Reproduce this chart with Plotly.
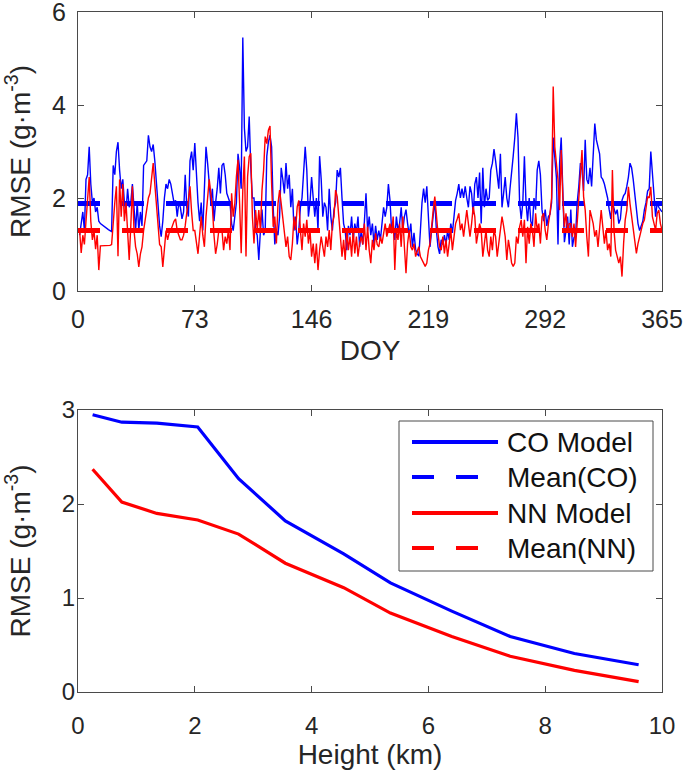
import plotly.graph_objects as go

# ---------------- data ----------------
doy = list(range(1, 366))

co_daily = [
    1.2, 1.5, 1.7, 1.3, 2.4, 2.5, 3.1, 2.3, 1.9, 2.0,
    1.7, 1.8, 1.5, 1.45, 1.42, 1.4, 1.38, 1.35, 1.32, 1.3,
    1.28, 2.7, 2.5, 3.0, 3.2, 2.6, 2.2, 2.4, 1.9, 1.7,
    2.2, 1.8, 1.9, 2.3, 1.7, 1.3, 1.9, 1.3, 1.7, 1.4,
    2.7, 2.75, 2.8, 3.35, 3.1, 3.0, 3.15, 2.8, 2.3, 1.9,
    1.4, 1.17, 1.5, 2.0, 2.3, 2.2, 2.4, 2.3, 2.1, 1.9,
    1.95, 1.6, 1.9, 1.8, 1.55, 1.7, 2.5, 1.8, 1.6, 2.8,
    3.0, 2.6, 3.18, 2.4, 1.9, 1.5, 1.9, 1.3, 2.2, 3.1,
    2.75, 2.2, 1.9, 2.2, 1.5, 1.9, 2.2, 2.65, 2.1, 2.7,
    2.75, 2.5, 2.1, 2.0, 1.9, 1.45, 1.3, 1.6, 1.9, 2.95,
    2.65, 2.2, 5.45, 3.5, 3.0, 3.1, 3.75, 2.65, 2.0, 2.0,
    1.3, 1.2, 0.67, 1.3, 1.75, 1.2, 1.3, 2.9, 3.2, 3.35,
    3.1, 1.8, 1.0, 1.3, 1.2, 1.6, 2.65, 2.4, 2.1, 2.75,
    2.2, 2.5, 1.8, 2.2, 1.3, 1.6, 1.0, 1.3, 1.8, 2.0,
    2.5, 3.1, 2.6, 1.6, 1.9, 2.45, 2.0, 1.6, 2.0, 1.3,
    2.9, 2.4, 1.6, 1.9, 1.8, 1.3, 2.2, 1.6, 1.3, 1.75,
    1.9, 2.6, 2.45, 2.65, 2.0, 1.45, 1.3, 0.88, 1.4, 1.2,
    1.6, 1.1, 1.45, 1.25, 1.6, 0.95, 1.3, 1.0, 1.5, 2.1,
    1.3, 1.6, 1.2, 1.45, 1.0, 1.4, 1.1, 1.3, 1.1, 1.45,
    1.8, 1.6, 1.8, 2.3, 1.95, 1.3, 1.45, 1.1, 1.6, 1.3,
    1.45, 1.8, 1.3, 1.6, 1.75, 1.45, 1.2, 1.45, 0.95, 1.25,
    0.9, 0.8, 0.75, 1.3, 1.9, 2.2, 1.9, 2.25, 1.45, 0.95,
    1.3, 1.6, 1.95, 1.3, 0.95, 0.8, 1.1, 1.0, 1.2, 1.0,
    1.3, 1.1, 1.45, 1.25, 1.6, 1.95, 2.1, 2.3, 2.0, 2.2,
    2.0, 2.25, 2.0, 1.8, 2.25, 2.1, 1.65, 2.3, 2.45, 2.0,
    2.55, 1.45, 2.65, 1.8, 2.2, 1.95, 2.0, 2.6, 2.75, 3.05,
    2.8, 2.5, 2.2, 2.95, 1.8, 2.1, 2.45, 2.0, 1.8, 2.2,
    2.5, 2.9, 3.3, 3.82, 3.3, 1.9, 1.55, 1.9, 2.9, 1.9,
    1.5, 2.0, 1.5, 1.4, 2.0, 1.75, 2.6, 2.8, 2.5, 1.75,
    1.5, 1.75, 1.4, 1.6, 1.65, 1.9, 3.3, 2.9, 2.45, 1.0,
    2.75, 3.3, 2.0, 1.05, 1.3, 1.6, 1.0, 1.75, 0.95, 1.15,
    1.2, 1.9, 2.25, 2.75, 2.6, 2.15, 3.25, 2.4, 2.3, 2.65,
    2.25, 3.0, 3.6, 3.25, 3.1, 2.95, 2.45, 2.4, 2.3, 2.15,
    2.0, 1.75, 1.55, 1.9, 1.75, 1.65, 1.75, 1.45, 1.55, 1.95,
    2.05, 2.1, 2.25, 2.45, 2.75, 2.65, 2.4, 2.05, 1.65, 1.45,
    1.3, 1.4, 1.5, 1.75, 1.9, 2.15, 2.2, 3.0, 2.45, 1.9,
    1.6, 1.9, 1.8, 1.75, 1.7,
]

nn_daily = [
    1.3, 0.82, 1.2, 1.0, 1.5, 1.9, 2.45, 1.5, 1.1, 1.3,
    0.9, 1.2, 0.45, 0.97, 0.97, 0.97, 0.97, 0.98, 0.98, 0.98,
    1.0, 1.55, 1.9, 2.25, 0.75, 2.4, 1.6, 2.3, 1.5, 1.9,
    1.2, 0.67, 1.4, 2.25, 1.3, 0.95, 0.8, 0.52, 0.8, 0.95,
    1.3, 1.55, 1.8, 2.0, 2.1, 2.4, 2.75, 2.3, 1.9, 1.4,
    1.0, 0.95, 0.52, 0.9, 1.3, 1.1, 1.25, 1.3, 1.4, 1.5,
    1.55, 1.3, 1.2, 1.1, 1.1, 1.2, 1.4, 1.7, 1.95, 2.25,
    1.7, 1.3, 1.3, 1.0, 0.8, 1.2, 1.6, 1.2, 0.95, 1.6,
    2.0, 2.4, 2.1, 1.8, 1.2, 0.8, 1.0, 1.3, 1.3, 1.3,
    0.88, 1.17, 1.02, 1.31, 0.88, 2.1, 1.6, 1.88, 2.46, 2.82,
    1.88, 0.81, 2.17, 2.89, 0.74, 2.46, 2.89, 2.96, 1.6, 1.02,
    1.74, 1.31, 1.74, 1.31, 2.17, 2.6, 3.32, 3.17, 3.46, 3.55,
    2.31, 1.38, 1.6, 1.02, 1.88, 2.17, 1.88, 1.6, 1.31, 0.95,
    1.17, 0.74, 0.67, 1.02, 1.6, 1.31, 1.81, 1.95, 1.31, 0.88,
    1.45, 1.17, 1.53, 1.02, 1.31, 0.74, 1.02, 0.6, 1.02, 0.45,
    0.88, 1.17, 0.95, 0.74, 1.17, 0.95, 1.31, 0.88, 1.45, 1.6,
    2.17, 2.03, 1.6, 1.17, 0.74, 1.1, 0.67, 1.31, 0.88, 1.17,
    0.74, 1.31, 0.81, 1.17, 0.74, 1.02, 1.17, 1.0, 1.45, 0.88,
    1.38, 0.88, 0.6, 1.1, 0.88, 1.24, 1.0, 0.95, 1.17, 1.02,
    1.24, 1.45, 1.17, 1.31, 1.45, 1.24, 1.6, 0.45, 1.31, 1.1,
    1.45, 0.95, 1.6, 0.95, 0.38, 1.02, 1.31, 0.95, 0.88, 1.02,
    0.74, 0.85, 0.95, 0.74, 0.67, 0.6, 0.53, 0.6, 0.88, 1.02,
    1.45, 1.74, 2.03, 1.6, 1.24, 0.95, 0.88, 1.17, 0.81, 1.1,
    0.74, 1.02, 1.31, 0.88, 1.24, 1.45, 1.55, 1.67, 1.31, 1.45,
    1.17, 1.53, 1.74, 1.45, 1.17, 1.45, 1.81, 1.6, 1.02, 1.24,
    1.45, 1.31, 0.74, 1.02, 1.31, 0.88, 0.74, 1.17, 0.88, 1.31,
    1.17, 0.74, 1.02, 1.38, 1.6, 1.4, 1.17, 0.67, 1.1, 0.88,
    0.6, 0.53, 0.6, 1.17, 1.02, 1.38, 1.53, 1.17, 1.53, 0.6,
    1.38, 1.02, 1.45, 1.31, 0.95, 1.67, 1.31, 1.45, 1.02, 1.6,
    1.67, 1.31, 1.1, 1.45, 1.67, 2.0, 4.4, 3.1, 2.74, 2.39,
    1.74, 3.03, 2.03, 1.38, 1.67, 1.31, 1.45, 1.45, 1.17, 1.45,
    0.95, 1.53, 2.03, 2.6, 3.03, 2.03, 1.74, 1.17, 0.74, 1.74,
    1.6, 1.45, 1.17, 1.31, 0.95, 1.38, 1.74, 1.38, 1.02, 1.31,
    0.88, 1.02, 0.74, 2.6, 1.31, 0.88, 0.74, 0.6, 0.74, 0.31,
    1.02, 1.53, 1.74, 2.24, 1.88, 1.6, 1.31, 1.02, 0.81, 1.02,
    1.17, 1.31, 1.45, 1.53, 1.74, 2.03, 2.0, 2.24, 1.6, 1.45,
    1.31, 1.67, 1.74, 1.45, 1.31,
]

co_mean = 1.88
nn_mean = 1.30
mean_span = [0, 365]

height_km = [0.25, 0.75, 1.35, 2.05, 2.75, 3.55, 4.55, 5.35, 6.4, 7.4, 8.5, 9.6]
co_height = [2.95, 2.87, 2.86, 2.82, 2.27, 1.82, 1.47, 1.16, 0.86, 0.59, 0.41, 0.29]
nn_height = [2.37, 2.02, 1.90, 1.83, 1.68, 1.37, 1.11, 0.84, 0.59, 0.38, 0.23, 0.11]

doy_ticks = [0, 73, 146, 219, 292, 365]
legend_labels = ["CO Model", "Mean(CO)", "NN Model", "Mean(NN)"]
legend_colors = ["#0000FF", "#0000FF", "#FF0000", "#FF0000"]
legend_dashed = [False, True, False, True]

BLUE = "#0000FF"
RED = "#FF0000"
FONT = "Liberation Sans, Arial, sans-serif"
AXC = "#4a4a4a"
TXT = "#262626"
DASH = "22px,22px"

fig = go.Figure()

# top panel
fig.add_trace(go.Scatter(x=doy, y=co_daily, mode="lines", name="CO Model", showlegend=False,
                         line=dict(color=BLUE, width=1.4), xaxis="x", yaxis="y"))
fig.add_trace(go.Scatter(x=mean_span, y=[co_mean, co_mean], mode="lines", name="Mean(CO)",
                         showlegend=False,
                         line=dict(color=BLUE, width=5, dash=DASH), xaxis="x", yaxis="y"))
fig.add_trace(go.Scatter(x=doy, y=nn_daily, mode="lines", name="NN Model", showlegend=False,
                         line=dict(color=RED, width=1.4), xaxis="x", yaxis="y"))
fig.add_trace(go.Scatter(x=mean_span, y=[nn_mean, nn_mean], mode="lines", name="Mean(NN)",
                         showlegend=False,
                         line=dict(color=RED, width=5, dash=DASH), xaxis="x", yaxis="y"))

# bottom panel
fig.add_trace(go.Scatter(x=height_km, y=co_height, mode="lines", name="CO Model", showlegend=False,
                         line=dict(color=BLUE, width=3.2), xaxis="x2", yaxis="y2"))
fig.add_trace(go.Scatter(x=height_km, y=nn_height, mode="lines", name="NN Model", showlegend=False,
                         line=dict(color=RED, width=3.2), xaxis="x2", yaxis="y2"))

W, H = 685, 770
def px(x):
    return x / W
def py(y):
    return 1 - y / H

def axis(size, standoff):
    return dict(showline=True, linecolor=AXC, linewidth=1, mirror="ticks",
                ticks="inside", ticklen=6, tickcolor=AXC, showgrid=False,
                zeroline=False, automargin=False, ticklabelstandoff=standoff,
                ticklabeloverflow="allow",
                tickfont=dict(family=FONT, size=size, color=TXT))

# legend box (MATLAB style, long line samples)
shapes = [dict(type="rect", xref="paper", yref="paper",
               x0=px(399), x1=px(653), y0=py(571), y1=py(421),
               line=dict(color=AXC, width=1), fillcolor="white", layer="above")]
annotations = []
row_y = [442, 477, 513, 548]
for lab, col, dashed, ry in zip(legend_labels, legend_colors, legend_dashed, row_y):
    shapes.append(dict(type="line", xref="paper", yref="paper",
                       x0=px(412), x1=px(498), y0=py(ry), y1=py(ry), layer="above",
                       line=dict(color=col, width=4, dash=DASH if dashed else "solid")))
    annotations.append(dict(xref="paper", yref="paper", x=px(505), y=py(ry),
                            xanchor="left", yanchor="middle", showarrow=False,
                            text=lab, font=dict(family=FONT, size=28, color="#111")))

fig.update_layout(
    width=W, height=H,
    margin=dict(l=0, r=0, t=0, b=0),
    paper_bgcolor="white", plot_bgcolor="white",
    font=dict(family=FONT, color=TXT),
    showlegend=False,
    xaxis=dict(domain=[px(78), px(662)], range=[0, 365], tickvals=doy_ticks,
               anchor="y",
               title=dict(text="DOY", font=dict(size=28), standoff=8), **axis(25, 6)),
    yaxis=dict(domain=[py(291), py(12)], range=[0, 6], tickvals=[0, 2, 4, 6],
               anchor="x",
               title=dict(text="RMSE (g·m<sup>-3</sup>)", font=dict(size=28), standoff=14),
               **axis(25, 6)),
    xaxis2=dict(domain=[px(78), px(662)], range=[0, 10], tickvals=[0, 2, 4, 6, 8, 10],
                anchor="y2",
                title=dict(text="Height (km)", font=dict(size=28), standoff=4),
                **axis(24, 12)),
    yaxis2=dict(domain=[py(692), py(410)], range=[0, 3], tickvals=[0, 1, 2, 3],
                anchor="x2",
                title=dict(text="RMSE (g·m<sup>-3</sup>)", font=dict(size=28), standoff=25),
                **axis(24, -3)),
    shapes=shapes,
    annotations=annotations,
)

# remove the default page margin so the 685x770 figure fills the window exactly
fig.write_html("out.html", config={"displayModeBar": False},
               post_script="document.body.style.margin='0';")
